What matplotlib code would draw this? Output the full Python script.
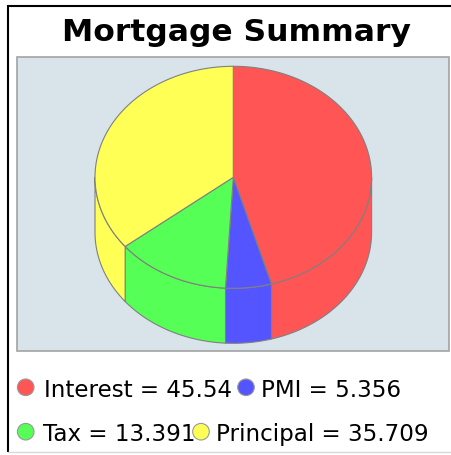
import numpy as np
import matplotlib
matplotlib.use("Agg")
import matplotlib.pyplot as plt
from matplotlib.patches import Polygon, Rectangle, Circle

# ---- data ----
categories = ["Interest", "PMI", "Tax", "Principal"]
values = [45.544, 5.356, 13.391, 35.709]
value_labels = ["45.544", "5.356", "13.391", "35.709"]
colors = ["#FF5555", "#5555FF", "#55FF55", "#FFFF55"]
title = "Mortgage Summary"

# ---- layout ----
W, H = 451, 456
fig = plt.figure(figsize=(W / 100, H / 100), dpi=100)
ax = fig.add_axes([0, 0, 1, 1])
ax.set_xlim(0, W)
ax.set_ylim(H, 0)
ax.axis("off")

# outer border
ax.plot([7.5, 7.5, W + 5], [453.5, 6.5, 6.5], color="black", lw=1.5,
        solid_capstyle="butt", solid_joinstyle="miter")
ax.plot([7.5, W + 5], [453.5, 453.5], color="#d8d8d8", lw=1)

# plot area
ax.add_patch(Rectangle((17, 58), 431.5, 294, facecolor="#d8e3ea",
                       edgecolor="#a3a3a3", lw=1.2))

# title
ax.text(236, 41, title, ha="center", va="baseline", fontsize=22.6,
        fontweight="bold", family="DejaVu Sans", color="black")

# ---- 3D pie ----
cx, cy, rx, ry, depth = 233.3, 178.3, 138.3, 111.0, 55.0
edge = "#808080"


def pts(t0, t1, dy=0.0, n=200):
    t = np.radians(np.linspace(t0, t1, n))
    return np.column_stack([cx + rx * np.cos(t), cy - ry * np.sin(t) + dy])


fracs = np.array(values) / np.sum(values)
starts = 90 - 360 * np.concatenate([[0], np.cumsum(fracs)[:-1]])
ends = starts - 360 * fracs

# side walls (front half only: angles in [-180, 0] modulo 360)
for s, e, c in zip(starts, ends, colors):
    for k in (0, -360, 360):
        lo = max(e, -180 + k)
        hi = min(s, 0 + k)
        if hi > lo:
            top = pts(hi, lo)
            bot = pts(lo, hi, dy=depth)
            ax.add_patch(Polygon(np.vstack([top, bot]), closed=True,
                                 facecolor=c, edgecolor=edge, lw=0.8,
                                 joinstyle="round"))

# top faces
for s, e, c in zip(starts, ends, colors):
    arc = pts(s, e)
    poly = np.vstack([[cx, cy], arc])
    ax.add_patch(Polygon(poly, closed=True, facecolor=c, edgecolor=edge,
                         lw=0.8, joinstyle="round"))

# ---- legend ----
fs = 16.6
leg_circles = [(25.7, 388.3), (246.0, 388.3), (25.7, 432.7), (201.0, 432.7)]
leg_text = [(44.4, 396.7), (260.7, 396.7), (43.0, 441.0), (215.7, 441.0)]
# each label is overdrawn by the next legend marker (as in the original)
clip_right = [231.5, W, 197.0, W]
for i, (cat, lab, c) in enumerate(zip(categories, value_labels, colors)):
    tx, ty = leg_text[i]
    t = ax.text(tx, ty, f"{cat} = {lab}", ha="left", va="baseline",
                fontsize=fs, family="DejaVu Sans", color="black", zorder=3)
    clip = Rectangle((0, 360), clip_right[i], 100, transform=ax.transData)
    t.set_clip_path(clip)
    t.set_clip_on(True)
for i, c in enumerate(colors):
    ax.add_patch(Circle(leg_circles[i], 8.3, facecolor=c, edgecolor="#999999",
                        lw=0.8, zorder=4))

fig.savefig("out.png", dpi=100)
